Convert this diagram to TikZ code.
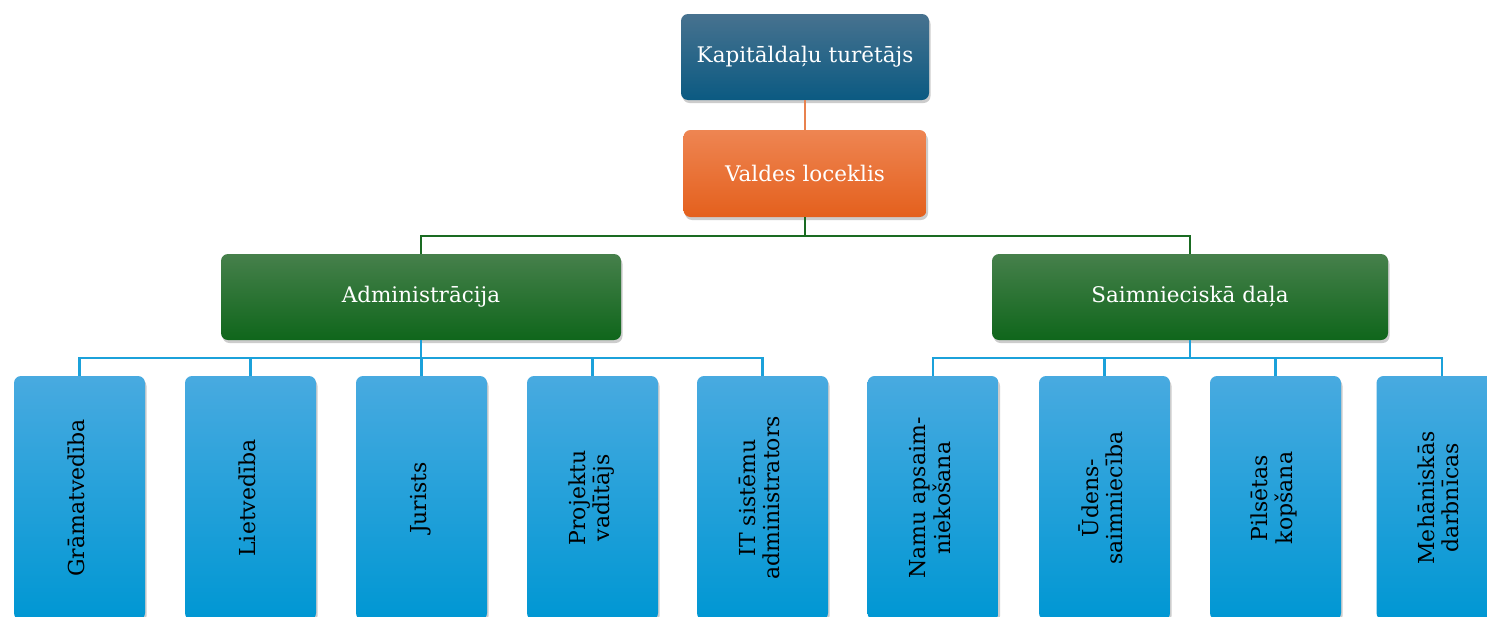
\documentclass[tikz,border=0pt]{standalone}
\usepackage{fontspec}
\setmainfont{DejaVu Serif}
\usepackage{graphicx}
\usetikzlibrary{shadows}
\definecolor{navyT}{HTML}{47728F}
\definecolor{navyB}{HTML}{0B5A82}
\definecolor{orgT}{HTML}{EE8552}
\definecolor{orgB}{HTML}{E4601D}
\definecolor{grnT}{HTML}{46804B}
\definecolor{grnB}{HTML}{0F661B}
\definecolor{bluT}{HTML}{48AAE0}
\definecolor{bluB}{HTML}{0097D3}
\definecolor{orgLine}{HTML}{E8824F}
\definecolor{grnLine}{HTML}{1A6B22}
\definecolor{bluLine}{HTML}{1BA1DA}
\newcommand{\vtext}[1]{\rotatebox{90}{\fontsize{22}{24}\selectfont\begin{tabular}{@{}c@{}}#1\end{tabular}}}
\begin{document}
\begin{tikzpicture}[x=1pt,y=-1pt,
  card/.style={rounded corners=7pt, inner sep=0pt,
    drop shadow={opacity=0.4, shadow xshift=1.5pt, shadow yshift=-3pt}},
  hbox/.style={card, text=white, font=\fontsize{21.5}{24}\selectfont},
  topbox/.style={hbox, minimum width=248pt, minimum height=86pt, top color=navyT, bottom color=navyB},
  orgbox/.style={hbox, minimum width=243pt, minimum height=87pt, top color=orgT, bottom color=orgB},
  grnbox/.style={hbox, minimum width=400pt, minimum height=86pt, top color=grnT, bottom color=grnB},
  blubox/.style={card, minimum width=131pt, minimum height=244pt, top color=bluT, bottom color=bluB, text=black},
  oline/.style={draw=orgLine, line width=2.2pt},
  gline/.style={draw=grnLine, line width=2.2pt},
  bline/.style={draw=bluLine, line width=2.2pt}
]
\clip (0,0) rectangle (1487,616);
\fill[white] (0,0) rectangle (1487,616);

\coordinate (vj) at (805,236);
\coordinate (aj) at (421,358);
\coordinate (sj) at (1190,358);

\node[topbox] (k) at (805,57) {Kapitāldaļu turētājs};
\node[orgbox] (v) at (805,173.5) {Valdes loceklis};
\node[grnbox] (adm) at (421,297) {Administrācija};
\node[grnbox, minimum width=396pt] (saim) at (1190,297) {Saimnieciskā daļa};

\node[blubox] (b1) at (79.5,498) {\vtext{Grāmatvedība}};
\node[blubox] (b2) at (250.5,498) {\vtext{Lietvedība}};
\node[blubox] (b3) at (421.5,498) {\vtext{Jurists}};
\node[blubox] (b4) at (592.5,498) {\vtext{Projektu\\vadītājs}};
\node[blubox] (b5) at (762.5,498) {\vtext{IT sistēmu\\administrators}};
\node[blubox] (b6) at (933,498) {\vtext{Namu apsaim-\\niekošana}};
\node[blubox] (b7) at (1104.5,498) {\vtext{Ūdens-\\saimniecība}};
\node[blubox] (b8) at (1275.5,498) {\vtext{Pilsētas\\kopšana}};
\node[blubox] (b9) at (1442,498) {\vtext{Mehāniskās\\darbnīcas}};

\draw[oline] (k.south) -- (v.north);
\draw[gline] (v.south) -- (vj) -| (adm.north);
\draw[gline] (vj) -| (saim.north);
\draw[bline] (adm.south) -- (aj) -| (b1.north);
\draw[bline] (aj) -| (b2.north);
\draw[bline] (aj) -| (b3.north);
\draw[bline] (aj) -| (b4.north);
\draw[bline] (aj) -| (b5.north);
\draw[bline] (saim.south) -- (sj) -| (b6.north);
\draw[bline] (sj) -| (b7.north);
\draw[bline] (sj) -| (b8.north);
\draw[bline] (sj) -| (b9.north);
\end{tikzpicture}
\end{document}
